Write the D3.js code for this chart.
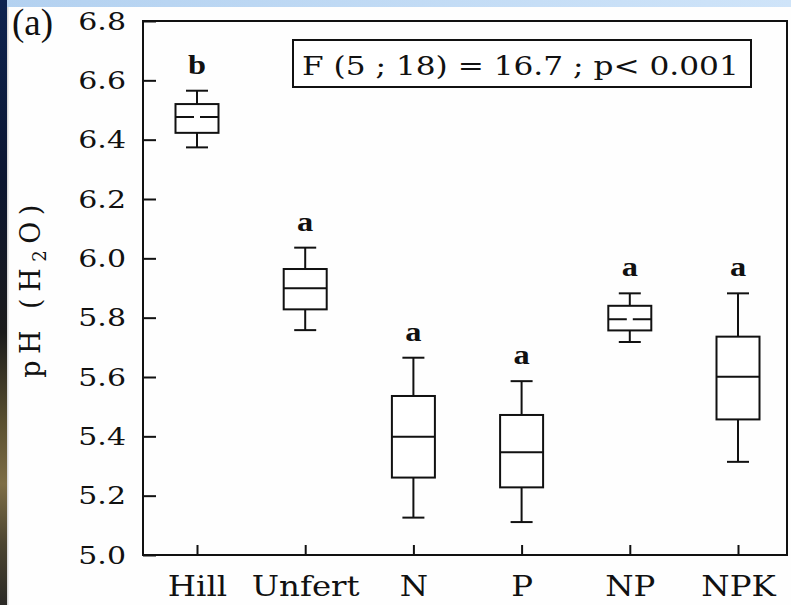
<!DOCTYPE html>
<html>
<head>
<meta charset="utf-8">
<script src="https://cdn.jsdelivr.net/npm/d3@7"></script>
<style>
  html, body { margin: 0; padding: 0; background: #ffffff; }
  svg { display: block; }
</style>
</head>
<body>
<svg id="chart" width="791" height="605"></svg>
<script>
// Soil pH (H2O) by treatment: box plot summaries
const categories = ["Hill", "Unfert", "N", "P", "NP", "NPK"];
const whiskerLow  = [6.374, 5.758, 5.126, 5.111, 5.718, 5.314];
const q1          = [6.423, 5.828, 5.261, 5.228, 5.757, 5.457];
const medians     = [6.476, 5.899, 5.399, 5.346, 5.795, 5.601];
const q3          = [6.520, 5.964, 5.536, 5.472, 5.840, 5.736];
const whiskerHigh = [6.565, 6.036, 5.665, 5.586, 5.882, 5.882];
const groupLetters = ["b", "a", "a", "a", "a", "a"];
const yTicks = [5.0, 5.2, 5.4, 5.6, 5.8, 6.0, 6.2, 6.4, 6.6, 6.8];
const statText = "F (5 ; 18) = 16.7 ; p< 0.001";

const svg = d3.select("#chart");
const W = 791, H = 605;
const frame = { left: 143, top: 21, right: 787, bottom: 555 };
const stretch = 1.2;           // horizontal glyph stretch used for all labels
const ink = "#111";

// window chrome: light blue band on top, dark strip on the left
const defs = svg.append("defs");
const gBlue = defs.append("linearGradient").attr("id", "band").attr("x1", 0).attr("x2", 1);
gBlue.append("stop").attr("offset", 0).attr("stop-color", "#b3d1f0");
gBlue.append("stop").attr("offset", 1).attr("stop-color", "#cfe4f9");
const gSide = defs.append("linearGradient").attr("id", "side").attr("x1", 0).attr("x2", 0).attr("y1", 0).attr("y2", 1);
[[0, "#0d2350"], [0.3, "#0c1630"], [0.55, "#1b1b1b"], [0.7, "#5a5030"], [0.8, "#7d6d45"], [0.9, "#4b4430"], [1, "#2b2a26"]]
  .forEach(([o, c]) => gSide.append("stop").attr("offset", o).attr("stop-color", c));

svg.append("rect").attr("width", W).attr("height", H).attr("fill", "#fefefe");
svg.append("rect").attr("x", 0).attr("y", 0).attr("width", W).attr("height", 7).attr("fill", "url(#band)");
svg.append("rect").attr("x", 0).attr("y", 0).attr("width", 7).attr("height", H).attr("fill", "url(#side)");
svg.append("rect").attr("x", 7).attr("y", 7).attr("width", 1.5).attr("height", H - 7).attr("fill", "#d8d8d8");

const x = d3.scalePoint().domain(categories).range([197, 738]);
const y = d3.scaleLinear().domain([5.0, 6.8]).range([frame.bottom, frame.top]);

const serif = "'DejaVu Serif', serif";

// y axis (ticks point inward)
const yAxis = svg.append("g")
  .attr("transform", `translate(${frame.left},0)`)
  .call(d3.axisLeft(y).tickValues(yTicks).tickFormat(d3.format(".1f"))
    .tickSizeInner(-13).tickSizeOuter(0).tickPadding(17 / stretch));
yAxis.select(".domain").remove();
yAxis.selectAll(".tick line").attr("stroke", ink).attr("stroke-width", 2);
yAxis.selectAll(".tick text")
  .attr("fill", ink).attr("font-family", serif).attr("font-size", 25)
  .attr("transform", `scale(${stretch},1)`);

// x axis (ticks point inward)
const xAxis = svg.append("g")
  .attr("transform", `translate(0,${frame.bottom})`)
  .call(d3.axisBottom(x).tickSizeInner(-10).tickSizeOuter(0).tickPadding(22));
xAxis.select(".domain").remove();
xAxis.selectAll(".tick line").attr("stroke", ink).attr("stroke-width", 2);
xAxis.selectAll(".tick text")
  .attr("fill", ink).attr("font-family", serif).attr("font-size", 27)
  .attr("transform", `scale(${stretch},1)`);

// plot frame
svg.append("rect")
  .attr("x", frame.left).attr("y", frame.top)
  .attr("width", frame.right - frame.left).attr("height", frame.bottom - frame.top)
  .attr("fill", "none").attr("stroke", ink).attr("stroke-width", 2);

// boxes
const boxW = 43, capW = 22;
const splitMedian = new Set(["Hill", "NP"]);
const rows = categories.map((c, i) => ({
  c, lo: whiskerLow[i], q1: q1[i], med: medians[i], q3: q3[i], hi: whiskerHigh[i], letter: groupLetters[i]
}));

const boxes = svg.append("g").attr("stroke", ink).attr("stroke-width", 2).attr("fill", "none");
const g = boxes.selectAll("g.box").data(rows).join("g").attr("class", "box")
  .attr("transform", d => `translate(${x(d.c)},0)`);

g.append("line").attr("x1", 0).attr("x2", 0).attr("y1", d => y(d.hi)).attr("y2", d => y(d.q3));
g.append("line").attr("x1", 0).attr("x2", 0).attr("y1", d => y(d.q1)).attr("y2", d => y(d.lo));
g.append("line").attr("x1", -capW / 2).attr("x2", capW / 2).attr("y1", d => y(d.hi)).attr("y2", d => y(d.hi));
g.append("line").attr("x1", -capW / 2).attr("x2", capW / 2).attr("y1", d => y(d.lo)).attr("y2", d => y(d.lo));
g.append("rect")
  .attr("x", -boxW / 2).attr("width", boxW)
  .attr("y", d => y(d.q3)).attr("height", d => y(d.q1) - y(d.q3))
  .attr("fill", "#fff");
g.append("line")
  .attr("x1", -boxW / 2).attr("x2", boxW / 2)
  .attr("y1", d => y(d.med)).attr("y2", d => y(d.med))
  .attr("stroke-dasharray", d => splitMedian.has(d.c) ? `${(boxW - 6) / 2},6,${boxW}` : null);

// significance letters above each box
svg.append("g").selectAll("text").data(rows).join("text")
  .attr("transform", d => `translate(${x(d.c)},${y(d.hi) - 17}) scale(${stretch},1)`)
  .attr("text-anchor", "middle")
  .attr("font-family", "'Liberation Serif', serif")
  .attr("font-weight", "bold").attr("font-size", 27)
  .attr("fill", ink)
  .text(d => d.letter);

// ANOVA result box
const statG = svg.append("g");
statG.append("rect")
  .attr("x", 293).attr("y", 40).attr("width", 458).attr("height", 47)
  .attr("fill", "#fff").attr("stroke", ink).attr("stroke-width", 2);
statG.append("text")
  .attr("transform", `translate(302,75) scale(${stretch},1)`)
  .attr("font-family", serif).attr("font-size", 26).attr("fill", ink)
  .text(statText);

// y-axis title
const yTitle = svg.append("text")
  .attr("transform", "translate(40,288) rotate(-90)")
  .attr("text-anchor", "middle")
  .attr("font-family", serif).attr("font-size", 27)
  .attr("letter-spacing", 6.5)
  .attr("fill", ink);
yTitle.append("tspan").text("pH (H");
yTitle.append("tspan").attr("font-size", 18).attr("dy", 6).text("2");
yTitle.append("tspan").attr("dy", -6).text("O)");

// panel tag
svg.append("text")
  .attr("x", 12).attr("y", 35)
  .attr("font-family", "'Liberation Serif', serif").attr("font-size", 37)
  .attr("fill", ink)
  .text("(a)");
</script>
</body>
</html>
